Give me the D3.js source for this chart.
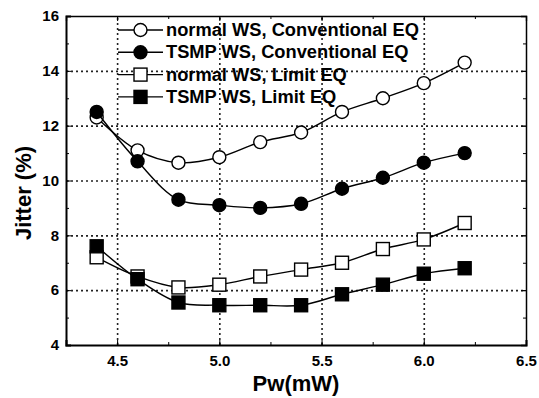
<!DOCTYPE html>
<html lang="en">
<head>
    <meta charset="utf-8">
    <title>Jitter vs Pw</title>
    <script type="text/javascript" src="https://d3js.org/d3.v7.min.js"></script>
    <style>
        html, body {
            margin: 0;
            padding: 0;
            background: #fff;
        }
        text {
            font-family: "Liberation Sans", Arial, sans-serif;
            font-weight: bold;
            fill: #000;
        }
        .tick text {
            font-size: 15px;
        }
        .axis path,
        .axis line {
            stroke: #000;
        }
        path.line {
            fill: none;
            stroke: #000;
            stroke-width: 1.4px;
        }
    </style>
</head>
<body>
<script type="text/javascript">
    var pw = [4.4, 4.6, 4.8, 5.0, 5.2, 5.4, 5.6, 5.8, 6.0, 6.2];

    var normalConv = [12.3, 11.1, 10.65, 10.85, 11.4, 11.75, 12.5, 13.0, 13.55, 14.3];
    var tsmpConv   = [12.5, 10.7, 9.3, 9.1, 9.0, 9.15, 9.7, 10.1, 10.65, 11.0];
    var normalLim  = [7.2, 6.5, 6.1, 6.2, 6.5, 6.75, 7.0, 7.5, 7.85, 8.45];
    var tsmpLim    = [7.6, 6.4, 5.55, 5.45, 5.45, 5.45, 5.85, 6.2, 6.6, 6.8];

    var seriesNames = ["normal WS, Conventional EQ", "TSMP WS, Conventional EQ",
                       "normal WS, Limit EQ", "TSMP WS, Limit EQ"];
    var xTicks = [4.5, 5.0, 5.5, 6.0, 6.5];
    var yTicks = [4, 6, 8, 10, 12, 14, 16];

    var series = [
        {name: seriesNames[0], values: normalConv, shape: "circle", fill: "#fff"},
        {name: seriesNames[1], values: tsmpConv, shape: "circle", fill: "#000"},
        {name: seriesNames[2], values: normalLim, shape: "square", fill: "#fff"},
        {name: seriesNames[3], values: tsmpLim, shape: "square", fill: "#000"}
    ];

    var margin = {left: 66, right: 13, top: 16, bottom: 53};
    var W = 539, H = 398;
    var width = W - margin.left - margin.right;
    var height = H - margin.top - margin.bottom;

    var x = d3.scaleLinear().domain([4.25, 6.5]).range([0, width]);
    var y = d3.scaleLinear().domain([4, 16]).range([height, 0]);

    var svg = d3.select("body").append("svg").attr("width", W).attr("height", H);
    var g = svg.append("g").attr("transform", "translate(" + margin.left + "," + margin.top + ")");

    // dotted grid, drawn with the axis generator so it sits on the scale ticks
    function gridStyle(s) {
        s.select(".domain").remove();
        s.selectAll(".tick line").attr("stroke", "#222").attr("stroke-width", 1.6)
            .attr("stroke-dasharray", "2,3");
    }
    g.append("g").attr("transform", "translate(0," + height + ")")
        .call(d3.axisBottom(x).tickValues(xTicks.slice(0, -1)).tickSize(-height).tickFormat(""))
        .call(gridStyle);
    g.append("g")
        .call(d3.axisLeft(y).tickValues(yTicks.slice(1, -1)).tickSize(-width).tickFormat(""))
        .call(gridStyle);

    var xMinor = d3.range(4.25, 6.51, 0.25);
    var yMinor = d3.range(4, 16.01, 1);

    // minor ticks (inward) on all sides
    function minor(axis, vals, tr) {
        g.append("g").attr("class", "axis").attr("transform", tr)
            .call(axis.tickValues(vals).tickSize(-3).tickFormat(""))
            .select(".domain").remove();
    }
    minor(d3.axisBottom(x), xMinor, "translate(0," + height + ")");
    minor(d3.axisTop(x), xMinor, "translate(0,0)");
    minor(d3.axisLeft(y), yMinor, "translate(0,0)");
    minor(d3.axisRight(y), yMinor, "translate(" + width + ",0)");

    // major axes
    var xAxis = d3.axisBottom(x).tickValues(xTicks).tickSize(-5).tickPadding(10).tickFormat(d3.format(".1f"));
    var yAxis = d3.axisLeft(y).tickValues(yTicks).tickSize(-5).tickPadding(7).tickFormat(d3.format("d"));

    g.append("g").attr("class", "axis").call(d3.axisTop(x).tickValues(xTicks).tickSize(-5).tickFormat(""))
        .select(".domain").attr("stroke-width", 1.3);
    g.append("g").attr("class", "axis").attr("transform", "translate(" + width + ",0)")
        .call(d3.axisRight(y).tickValues(yTicks).tickSize(-5).tickFormat(""))
        .select(".domain").attr("stroke-width", 1.5);
    g.append("g").attr("class", "axis x").attr("transform", "translate(0," + height + ")")
        .call(xAxis).select(".domain").attr("stroke-width", 2);
    g.append("g").attr("class", "axis y")
        .call(yAxis).select(".domain").attr("stroke-width", 2);

    // lines
    var line = d3.line()
        .x(function(d, i) { return x(pw[i]); })
        .y(function(d) { return y(d); })
        .curve(d3.curveCatmullRom.alpha(0.5));

    function drawMarker(sel, s, cx, cy) {
        if (s.shape === "circle") {
            sel.append("circle").attr("cx", cx).attr("cy", cy).attr("r", 6.5)
                .attr("fill", s.fill).attr("stroke", "#000").attr("stroke-width", 1.4);
        } else {
            sel.append("rect").attr("x", cx - 6.5).attr("y", cy - 6.5)
                .attr("width", 13).attr("height", 13)
                .attr("fill", s.fill).attr("stroke", "#000").attr("stroke-width", 1.4);
        }
    }

    series.forEach(function(s) {
        g.append("path").attr("class", "line").attr("d", line(s.values));
        var mg = g.append("g");
        s.values.forEach(function(v, i) { drawMarker(mg, s, x(pw[i]), y(v)); });
    });

    // legend
    var leg = g.append("g").attr("transform", "translate(52,14)");
    series.forEach(function(s, i) {
        var row = leg.append("g").attr("transform", "translate(0," + (i * 22.3) + ")");
        row.append("line").attr("x1", 0).attr("x2", 45).attr("y1", 0).attr("y2", 0)
            .attr("stroke", "#000").attr("stroke-width", 1.4);
        drawMarker(row, s, 22.5, 0);
        row.append("text").attr("x", 48).attr("y", 6)
            .style("font-size", "18.3px").text(s.name);
    });

    // axis titles
    svg.append("text").attr("x", 296).attr("y", 391)
        .attr("text-anchor", "middle").style("font-size", "22px").text("Pw(mW)");
    svg.append("text").attr("transform", "translate(31,193) rotate(-90)")
        .attr("text-anchor", "middle").style("font-size", "22px").text("Jitter (%)");
</script>
</body>
</html>
